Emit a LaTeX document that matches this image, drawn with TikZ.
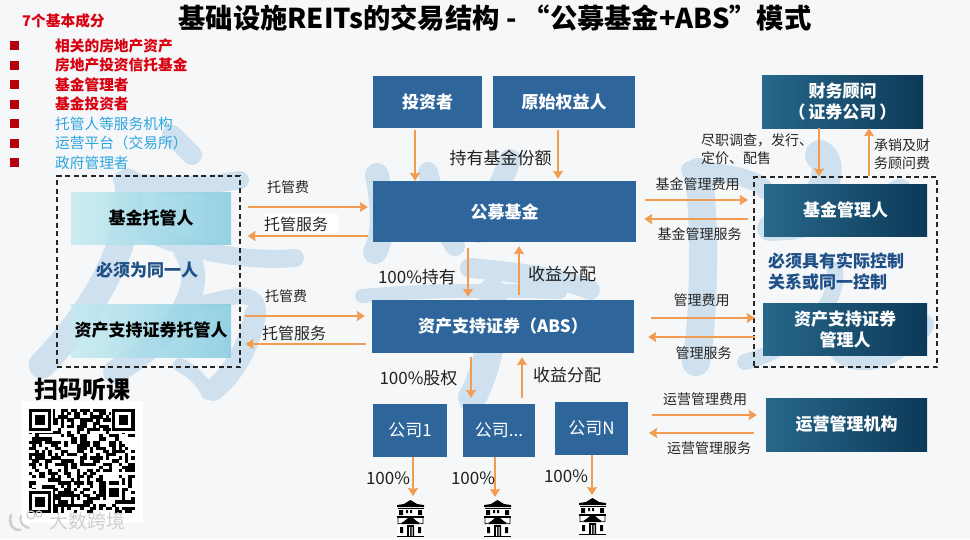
\documentclass[tikz,border=0pt]{standalone}
\usepackage{fontspec}
\setmainfont{Noto Sans CJK SC}
\usetikzlibrary{arrows.meta}
\definecolor{bgc}{HTML}{F6F7F9}
\definecolor{wm}{HTML}{CFE1EF}
\definecolor{midb}{HTML}{2E669C}
\definecolor{arrc}{HTML}{F19C50}
\definecolor{redt}{HTML}{D8000F}
\definecolor{bluet}{HTML}{2FA5DE}
\definecolor{navyt}{HTML}{1E4F86}
\definecolor{gl}{HTML}{27688B}
\definecolor{gr}{HTML}{0D3958}
\definecolor{tl}{HTML}{C5EBF0}
\definecolor{tr}{HTML}{85CBE0}
\definecolor{logoc}{HTML}{CFCFCF}
\newcommand{\fs}[1]{\fontsize{#1}{\the\numexpr#1+4\relax}\selectfont}
\newcommand{\bx}[7]{\node[#6,minimum width={(#4-#2)*1pt},minimum height={(#5-#3)*1pt}] (#1) at ({(#2+#4)/2},{(#3+#5)/2}) {#7};}
\newcommand{\housepic}[2]{%
\begin{scope}[shift={(#1,#2)}]
\fill[white] (0,4) rectangle (27,37);
\fill[black] (13.5,0) -- (20,4) -- (27,5) -- (27,7) -- (0,7) -- (0,5) -- (7,4) -- cycle;
\fill[black] (1,8) rectangle (27,9);
\fill[black] (2,10) rectangle (6,15) (9,10) rectangle (11,13) (13,10) rectangle (15,13) (21,10) rectangle (25,15);
\fill[black] (0,16) rectangle (27,17.5);
\draw[black,line width=.6pt] (1,18) -- (1,24) (26,18) -- (26,24) (1,24) -- (8,22) (26,24) -- (19,22);
\fill[black] (13.5,16) -- (21,22) -- (23,24) -- (4,24) -- (6,22) -- cycle;
\fill[black] (3,27) rectangle (6,33) (21,27) rectangle (24,33) (10,25) rectangle (17,36);
\fill[white] (12,27) rectangle (13,36) (14.5,27) rectangle (15.5,36);
\fill[black] (0,35.5) rectangle (27,37);
\end{scope}}
\newcommand{\finder}[2]{%
\fill[white] ({29+(#1-.5)*3.2},{409+(#2-.5)*3.15}) rectangle ++(8*3.2,8*3.15);
\fill[black] ({29+#1*3.2},{409+#2*3.15}) rectangle ++(7*3.2,7*3.15);
\fill[white] ({29+(#1+1)*3.2},{409+(#2+1)*3.15}) rectangle ++(5*3.2,5*3.15);
\fill[black] ({29+(#1+2)*3.2},{409+(#2+2)*3.15}) rectangle ++(3*3.2,3*3.15);}
\tikzset{
 midbox/.style={fill=midb,text=white,inner sep=0pt,align=center,font=\fs{17}\bfseries},
 gradbox/.style={left color=gl,right color=gr,text=white,inner sep=0pt,align=center,font=\fs{17}\bfseries},
 tealbox/.style={left color=tl,right color=tr,text=black,inner sep=0pt,align=center,font=\fs{17}\bfseries},
 dashbox/.style={draw=black!85,line width=1.2pt,dash pattern=on 5pt off 3.5pt,inner sep=0pt},
 arr/.style={draw=arrc,line width=1.8pt,-{Stealth[length=8pt,width=10pt,inset=1pt]}},
 lab/.style={inner sep=0pt,text=black!85,align=center,font=\fs{14}},
 bigl/.style={inner sep=0pt,text=black!88,align=center,font=\fs{17}},
 navy/.style={inner sep=0pt,text=navyt,align=left,font=\fs{17}\bfseries},
 wstroke/.style={draw=wm,line cap=round,line join=round},
 redi/.style={anchor=west,inner sep=0pt,text=redt,font=\fs{14.7}\bfseries},
 bluei/.style={anchor=west,inner sep=0pt,text=bluet,font=\fs{14.7}},
 bullet/.style={fill=redt!85!black,minimum size=9pt,inner sep=0pt},
}
\renewcommand{\fs}[1]{\fontsize{#1}{\dimexpr#1pt+4pt\relax}\selectfont}
\begin{document}
\begin{tikzpicture}[x=1pt,y=-1pt]
\useasboundingbox (0,0) rectangle (970,539);
\fill[bgc] (0,0) rectangle (970,539);
% watermark
\begin{scope}
% left glyph
\draw[wstroke,line width=20pt] (172,135) -- (192,155);
\draw[wstroke,line width=18pt] (122,180) .. controls (170,188) and (210,185) .. (240,180);
\draw[wstroke,line width=27pt] (128,182) .. controls (135,240) and (95,310) .. (42,365);
\draw[wstroke,line width=18pt] (145,232) .. controls (190,252) and (250,262) .. (295,258);
\draw[wstroke,line width=24pt] (185,250) .. controls (210,290) and (175,335) .. (115,372);
\draw[wstroke,line width=16pt] (205,303) .. controls (235,295) and (258,290) .. (258,312);
\draw[wstroke,line width=22pt] (255,315) .. controls (248,350) and (232,375) .. (213,390);
\draw[wstroke,line width=14pt] (180,365) .. controls (195,372) and (205,385) .. (208,393);
% middle glyph
\draw[wstroke,line width=24pt] (377,175) .. controls (385,215) and (382,240) .. (375,252);
\draw[wstroke,line width=20pt] (428,172) .. controls (435,200) and (440,225) .. (455,246);
\draw[wstroke,line width=22pt] (510,160) .. controls (498,190) and (486,215) .. (478,232);
\draw[wstroke,line width=20pt] (470,268) .. controls (520,272) and (570,280) .. (590,290);
\draw[wstroke,line width=14pt] (362,296) .. controls (430,290) and (480,290) .. (560,292);
\draw[wstroke,line width=28pt] (492,292) .. controls (497,330) and (485,375) .. (472,398);
% right glyph
\draw[wstroke,line width=28pt] (698,172) .. controls (706,220) and (704,320) .. (696,362);
\draw[wstroke,line width=18pt] (690,170) .. controls (730,172) and (760,180) .. (765,190);
\draw[wstroke,line width=30pt] (820,155) .. controls (835,165) and (825,200) .. (790,225);
\draw[wstroke,line width=26pt] (770,228) .. controls (830,225) and (880,205) .. (900,192);
\draw[wstroke,line width=16pt] (835,270) .. controls (840,310) and (790,350) .. (745,362);
\draw[wstroke,line width=24pt] (835,320) .. controls (825,365) and (880,375) .. (922,325);
\end{scope}
% top text
\node[inner sep=0pt,font=\fs{27.3}\bfseries,text=black] (ttl) at (495,18) {基础设施REITs的交易结构 - “公募基金+ABS”模式};
\node[inner sep=0pt,font=\fs{14.7}\bfseries,text=redt,anchor=west] (hd) at (22,21) {7个基本成分};
\node[bullet] (b1) at (14.5,45.5) {};
\node[bullet] (b2) at (14.5,65) {};
\node[bullet] (b3) at (14.5,84.5) {};
\node[bullet] (b4) at (14.5,104) {};
\node[bullet] (b5) at (14.5,123.5) {};
\node[bullet] (b6) at (14.5,143) {};
\node[bullet] (b7) at (14.5,162.5) {};
\node[redi] (i1) at (55,45.5) {相关的房地产资产};
\node[redi] (i2) at (55,65) {房地产投资信托基金};
\node[redi] (i3) at (55,84.5) {基金管理者};
\node[redi] (i4) at (55,104) {基金投资者};
\node[bluei] (i5) at (55,123.5) {托管人等服务机构};
\node[bluei] (i6) at (55,143) {运营平台（交易所）};
\node[bluei] (i7) at (55,162.5) {政府管理者};
% boxes
\bx{inv}{373}{76}{482}{128}{midbox}{投资者}
\bx{orig}{493}{76}{635}{128}{midbox}{原始权益人}
\bx{fund}{373}{181}{636}{242}{midbox}{公募基金}
\bx{abs}{372}{300}{634}{353}{midbox}{资产支持证券（ABS）}
\bx{ca}{373}{404}{447}{457}{midbox,font=\fs{17}}{公司1}
\bx{cb}{463}{404}{535}{457}{midbox,font=\fs{17}}{公司...}
\bx{cc}{555}{402}{628}{455}{midbox,font=\fs{17}}{公司N}
\bx{adv}{762}{75}{923}{128}{gradbox}{财务顾问\\（\hspace{3pt}证券公司\hspace{3pt}）}
\bx{fm}{764}{184}{927}{236}{gradbox}{基金管理人}
\bx{am}{763}{303}{927}{355}{gradbox}{资产支持证券\\管理人}
\bx{op}{766}{398}{927}{451}{gradbox}{运营管理机构}
\bx{tb}{71}{192}{231}{244}{tealbox,fill opacity=.85,text opacity=1}{基金托管人}
\bx{tc}{71}{304}{231}{357}{tealbox,fill opacity=.85,text opacity=1}{资产支持证券托管人}
\bx{ld}{57}{176}{240}{367}{dashbox}{}
\bx{rd}{754}{177}{937}{367}{dashbox}{}
\node[navy] (same) at (147,270) {必须为同一人};
\node[navy] (ctrl) at (836,271) {必须具有实际控制\\关系或同一控制};
% white patch
\node[fill=white,inner sep=0pt,minimum width=73pt,minimum height=19pt] (patch) at (301.5,223) {};
% free ends
\coordinate (opa) at (652,415);
\coordinate (opb) at (649,433);
\coordinate (h1) at (413,496);
\coordinate (h2) at (495,497);
\coordinate (h3) at (592,495);
% connectors
\draw[arr] ([xshift=7pt,yshift=64.5pt]ld.east) -- ([xshift=-5pt,yshift=4.5pt]fund.west);
\draw[arr] ([xshift=-5pt,yshift=-24.5pt]fund.west) -- ([xshift=7pt,yshift=35.5pt]ld.east);
\draw[arr] ([xshift=4pt,yshift=-44.5pt]ld.east) -- ([xshift=-7pt,yshift=10.5pt]abs.west);
\draw[arr] ([xshift=-6pt,yshift=-17.5pt]abs.west) -- ([xshift=5pt,yshift=-72.5pt]ld.east);
\draw[arr] ([xshift=-12.5pt,yshift=-2pt]inv.south) -- ([xshift=-89.5pt]fund.north);
\draw[arr] ([xshift=-6pt,yshift=-2pt]orig.south) -- ([xshift=53.5pt,yshift=2pt]fund.north);
\draw[arr] ([xshift=-36.5pt,yshift=-6pt]fund.south) -- ([xshift=-35pt,yshift=3pt]abs.north);
\draw[arr] ([xshift=16pt,yshift=5pt]abs.north) -- ([xshift=14.5pt,yshift=-4pt]fund.south);
\draw[arr] ([xshift=-32pt,yshift=-4pt]abs.south) -- ([xshift=-28pt,yshift=6pt]cb.north);
\draw[arr] ([xshift=23pt,yshift=6pt]cb.north) -- ([xshift=19pt,yshift=-4pt]abs.south);
\draw[arr] ([xshift=9pt,yshift=11.5pt]fund.east) -- ([xshift=-16pt,yshift=10pt]fm.west);
\draw[arr] ([xshift=-16pt,yshift=-9pt]fm.west) -- ([xshift=8pt,yshift=-7.5pt]fund.east);
\draw[arr] ([xshift=17pt,yshift=8.5pt]abs.east) -- ([xshift=-8pt,yshift=11pt]am.west);
\draw[arr] ([xshift=-8pt,yshift=-8pt]am.west) -- ([xshift=14pt,yshift=-10.5pt]abs.east);
\draw[arr] (opa) -- ([xshift=-9pt,yshift=9.5pt]op.west);
\draw[arr] ([xshift=-12pt,yshift=-8.5pt]op.west) -- (opb);
\draw[arr] ([xshift=-23.5pt]adv.south) -- ([xshift=-26.5pt]rd.north);
\draw[arr] ([xshift=23.5pt]rd.north) -- ([xshift=26.5pt]adv.south);
\draw[arr] ([xshift=3pt]ca.south) -- (h1);
\draw[arr] ([xshift=-4pt]cb.south) -- (h2);
\draw[arr] ([xshift=.5pt]cc.south) -- (h3);
% labels
\node[lab] (l1) at (288,187) {托管费};
\node[lab,font=\fs{16}] (l2) at (296,224) {托管服务};
\node[lab] (l3) at (286,296) {托管费};
\node[lab,font=\fs{16}] (l4) at (294,333) {托管服务};
\node[bigl] (l5) at (500.5,158) {持有基金份额};
\node[bigl] (l6) at (417,277) {100\%持有};
\node[bigl] (l7) at (562,274) {收益分配};
\node[bigl] (l8) at (418.5,378) {100\%股权};
\node[bigl] (l9) at (567,375) {收益分配};
\node[lab] (l10) at (697.5,184) {基金管理费用};
\node[lab] (l11) at (699.5,234) {基金管理服务};
\node[lab] (l12) at (701.5,300) {管理费用};
\node[lab] (l13) at (703.5,353) {管理服务};
\node[lab] (l14) at (705,399.5) {运营管理费用};
\node[lab] (l15) at (709,448) {运营管理服务};
\node[lab,align=left,anchor=west] (l16) at (701,149.5) {尽职调查，发行、\\定价、配售};
\node[lab,align=left,anchor=west] (l17) at (874,154) {承销及财\\务顾问费};
\node[bigl] (p1) at (388,478) {100\%};
\node[bigl] (p2) at (473,478) {100\%};
\node[bigl] (p3) at (566,476) {100\%};
% houses
\housepic{397}{500}
\housepic{484}{500}
\housepic{579}{498}
% QR
\node[inner sep=0pt,font=\fs{24}\bfseries,text=black] (scan) at (82.5,390) {扫码听课};
\fill[white] (21,401) rectangle (143,523);
\pgfmathsetseed{20}
\foreach \r in {0,...,32}{\foreach \c in {0,...,32}{
 \pgfmathparse{rnd>0.5?1:0}
 \ifdim\pgfmathresult pt>0.5pt
  \fill[black] ({29+\c*3.2},{409+\r*3.15}) rectangle ++(3.3,3.25);
 \fi}}
\finder{0}{0}
\finder{26}{0}
\finder{0}{26}
\fill[white] ({29+24*3.2},{409+24*3.15}) rectangle ++(5*3.2,5*3.15);
\fill[black] ({29+25*3.2},{409+25*3.15}) rectangle ++(3*3.2,3*3.15);
% corner logo
\draw[logoc,line width=2.6pt,line cap=round] (11,515) .. controls (8,525) and (14,531) .. (20,530);
\draw[logoc,line width=2.2pt,line cap=round] (21,516) .. controls (19,523) and (24,527) .. (29,528);
\draw[logoc,line width=1.2pt] (31,515) circle (4) (39,514) circle (3);
\node[inner sep=0pt,font=\fs{19},text=logoc] (wmk) at (87,521) {大数跨境};
\end{tikzpicture}
\end{document}
